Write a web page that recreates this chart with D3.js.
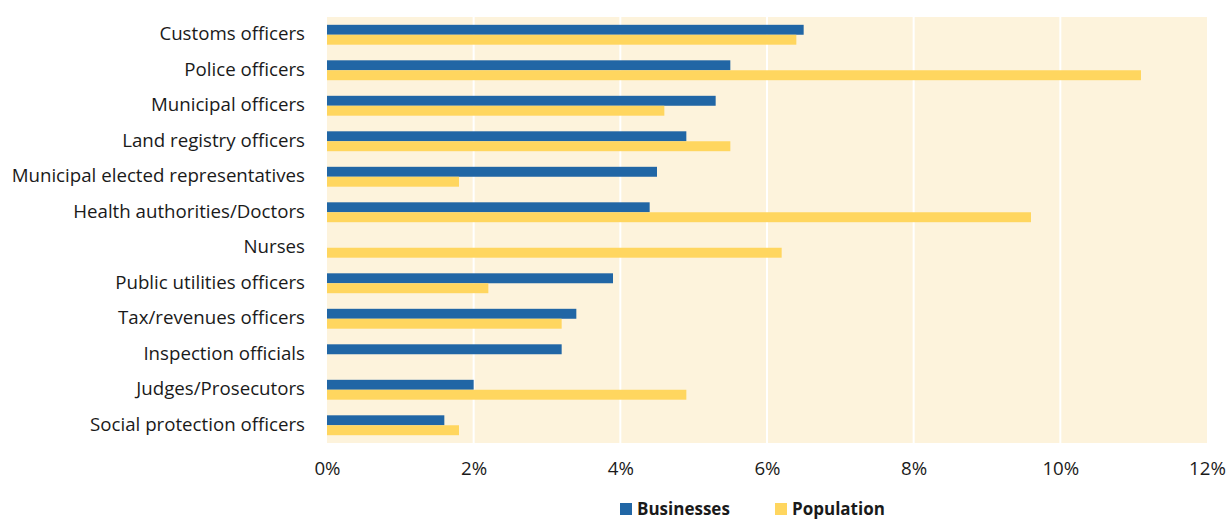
<!DOCTYPE html>
<html><head><meta charset="utf-8">
<script src="https://cdn.jsdelivr.net/npm/d3@7"></script>
<style>body{margin:0;background:#fff;} text{font-family:"Open Sans",sans-serif;}</style>
</head><body><svg id="c" width="1228" height="520"></svg>
<script>
const categories = ["Customs officers","Police officers","Municipal officers","Land registry officers","Municipal elected representatives","Health authorities/Doctors","Nurses","Public utilities officers","Tax/revenues officers","Inspection officials","Judges/Prosecutors","Social protection officers"];
const businesses = [6.5,5.5,5.3,4.9,4.5,4.4,null,3.9,3.4,3.2,2.0,1.6];
const population = [6.4,11.1,4.6,5.5,1.8,9.6,6.2,2.2,3.2,null,4.9,1.8];
const seriesNames = ["Businesses","Population"];
const colors = ["#2166A5","#FFD65F"];
const tickValues = [0,2,4,6,8,10,12];

const svg = d3.select("#c");
const m = {l:327, r:1207, t:17, b:443};
const x = d3.scaleLinear().domain([0,12]).range([m.l,m.r]);
const y = d3.scaleBand().domain(categories).range([m.t,m.b]).paddingInner(0.44).paddingOuter(0.22);
const sub = d3.scaleBand().domain(seriesNames).range([0,y.bandwidth()]);
const FONT = "'Open Sans',sans-serif";

svg.append("rect").attr("x",m.l).attr("y",m.t).attr("width",m.r-m.l).attr("height",m.b-m.t).attr("fill","#FDF3DC");
svg.append("g").selectAll("line").data(tickValues.filter(v=>v>0&&v<12)).join("line")
  .attr("x1",d=>x(d)).attr("x2",d=>x(d)).attr("y1",m.t).attr("y2",m.b)
  .attr("stroke","#fff").attr("stroke-width",2);

const data = [businesses,population];
data.forEach((vals,si)=>{
  svg.append("g").selectAll("rect").data(categories.map((c,i)=>({c,v:vals[i]})).filter(d=>d.v!=null)).join("rect")
    .attr("x",x(0)).attr("y",d=>y(d.c)+sub(seriesNames[si]))
    .attr("width",d=>x(d.v)-x(0)).attr("height",sub.bandwidth())
    .attr("fill",colors[si]);
});

const yAxis = svg.append("g").attr("transform",`translate(${m.l-22},0)`)
  .call(d3.axisLeft(y).tickSize(0).tickPadding(0));
yAxis.select(".domain").remove();
yAxis.selectAll("text").attr("font-size",18.7).attr("fill","#1a1a1a").attr("dy","0.3em").style("font-family",FONT);

const xAxis = svg.append("g").attr("transform",`translate(0,${m.b})`)
  .call(d3.axisBottom(x).tickValues(tickValues).tickFormat(d=>d+"%").tickSize(0).tickPadding(19));
xAxis.select(".domain").remove();
xAxis.selectAll("text").attr("font-size",18.7).attr("fill","#1a1a1a").style("font-family",FONT);

const leg = svg.append("g");
const legX = [620,775];
seriesNames.forEach((s,i)=>{
  leg.append("rect").attr("x",legX[i]).attr("y",503).attr("width",12).attr("height",12).attr("fill",colors[i]);
  leg.append("text").attr("x",legX[i]+17).attr("y",515).attr("font-size",17).attr("font-weight","bold").attr("fill","#1a1a1a").style("font-family",FONT).text(s);
});
</script></body></html>
